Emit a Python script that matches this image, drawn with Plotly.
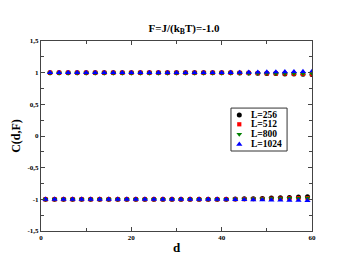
import plotly.graph_objects as go

d_even = list(range(2, 61, 2))
d_odd = list(range(1, 60, 2))

# top row (even d), values near +1
top_256 = [1.0]*20 + [0.998, 0.996, 0.994, 0.99, 0.988, 0.985, 0.98, 0.978, 0.975, 0.97]
top_512 = [1.0]*20 + [0.999, 0.997, 0.995, 0.993, 0.99, 0.988, 0.985, 0.982, 0.98, 0.975]
top_800 = [0.995]*20 + [0.994, 0.993, 0.992, 0.99, 0.99, 0.988, 0.987, 0.986, 0.985, 0.985]
top_1024 = [1.0]*20 + [1.002, 1.004, 1.006, 1.008, 1.01, 1.012, 1.014, 1.016, 1.018, 1.02]

# bottom row (odd d), values near -1
bot_256 = [-1.0]*20 + [-0.998, -0.995, -0.992, -0.99, -0.985, -0.98, -0.975, -0.97, -0.965, -0.96]
bot_512 = [-1.0]*20 + [-0.999, -0.998, -0.997, -0.995, -0.993, -0.99, -0.988, -0.985, -0.982, -0.98]
bot_800 = [-1.0]*20 + [-0.998, -0.996, -0.994, -0.992, -0.99, -0.988, -0.986, -0.984, -0.982, -0.98]
bot_1024 = [-1.0]*20 + [-1.002, -1.004, -1.006, -1.008, -1.01, -1.012, -1.014, -1.016, -1.018, -1.02]

names = ["L=256", "L=512", "L=800", "L=1024"]
colors = ["black", "red", "green", "blue"]
symbols = ["circle", "square", "triangle-down", "triangle-up"]
sizes = [5, 4.2, 5, 5.5]
tops = [top_256, top_512, top_800, top_1024]
bots = [bot_256, bot_512, bot_800, bot_1024]

x_tickvals = [0, 20, 40, 60]
x_ticktext = ["0", "20", "40", "60"]
y_tickvals = [-1.5, -1, -0.5, 0, 0.5, 1, 1.5]
y_ticktext = ["-1,5", "-1", "-0,5", "0", "0,5", "1", "1,5"]

FONT = "Liberation Serif"

fig = go.Figure()
for name, color, sym, sz, top, bot in zip(names, colors, symbols, sizes, tops, bots):
    fig.add_trace(go.Scatter(
        x=d_even + d_odd, y=top + bot, mode="markers", name=name,
        marker=dict(color=color, symbol=sym, size=sz, line=dict(width=0)),
        showlegend=False,
    ))

# hand-made legend (plotly's legend rows are too tall at this size)
leg_x0, leg_x1, leg_y0, leg_y1 = 0.701, 0.908, 0.421, 0.647
row_y = [0.6105, 0.5616, 0.509, 0.4563]
mark_x = 0.7317
text_x = 0.7686
for name, color, sym, sz, ry in zip(names, colors, symbols, sizes, row_y):
    fig.add_trace(go.Scatter(
        x=[mark_x], y=[ry], xaxis="x2", yaxis="y2", mode="markers",
        marker=dict(color=color, symbol=sym, size=sz, line=dict(width=0)),
        showlegend=False, hoverinfo="skip",
    ))
    fig.add_annotation(x=text_x, y=ry, xref="paper", yref="paper",
                       text="<b>%s</b>" % name, showarrow=False,
                       xanchor="left", yanchor="middle",
                       font=dict(family=FONT, size=9.5, color="black"))
fig.add_shape(type="rect", xref="paper", yref="paper",
              x0=leg_x0, x1=leg_x1, y0=leg_y0, y1=leg_y1,
              line=dict(color="#333", width=1), fillcolor="rgba(0,0,0,0)")

axis_common = dict(
    showline=True, linecolor="#444", linewidth=1, mirror="allticks",
    ticks="inside", ticklen=4, tickcolor="#444", showgrid=False, zeroline=False,
    tickfont=dict(family=FONT, size=7, color="black", weight="bold"),
    automargin=False,
)

xaxis = dict(
    range=[0, 60], tickvals=x_tickvals, ticktext=x_ticktext,
    minor=dict(dtick=10, tick0=0, ticks="inside", ticklen=3, tickcolor="#444"),
    title=dict(text="<b>d</b>", font=dict(family=FONT, size=13, color="black"), standoff=1),
    **axis_common,
)
yaxis = dict(
    range=[-1.5, 1.5], tickvals=y_tickvals, ticktext=y_ticktext,
    minor=dict(dtick=0.25, tick0=0, ticks="inside", ticklen=3, tickcolor="#444"),
    title=dict(text="<b>C(d,F)</b>", font=dict(family=FONT, size=12, color="black"), standoff=4),
    **axis_common,
)

fig.update_layout(
    width=352, height=272,
    margin=dict(l=33, r=48, t=33, b=49),
    paper_bgcolor="white", plot_bgcolor="white",
    xaxis=xaxis, yaxis=yaxis,
    xaxis2=dict(overlaying="x", range=[0, 1], visible=False),
    yaxis2=dict(overlaying="y", range=[0, 1], visible=False),
    title=dict(text="<b>F=J/(k<sub>B</sub>T)=-1.0</b>", x=0.5, xanchor="center",
               y=0.926, yanchor="middle", automargin=False,
               font=dict(family=FONT, size=11, color="black")),
    showlegend=False,
)

fig.write_html("out.html")
